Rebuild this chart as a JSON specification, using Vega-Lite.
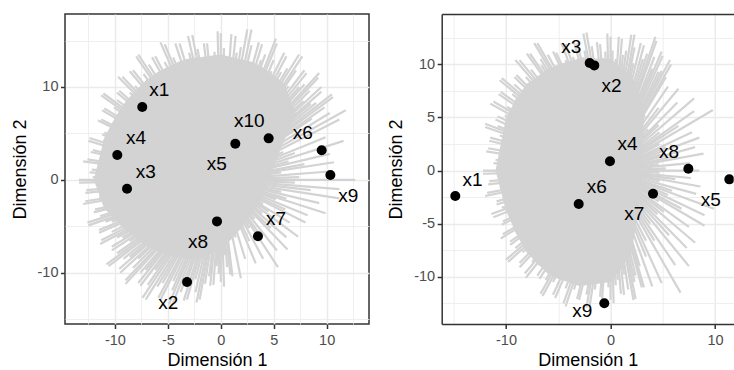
{
  "$schema": "https://vega.github.io/schema/vega-lite/v6.json",
  "autosize": {"type": "pad"},
  "padding": {"left": 10, "top": 13, "right": 0, "bottom": 0},
  "spacing": 17.7,
  "datasets": {
    "coreL": [
      {"x": -12, "lo": 0, "hi": 0}, {"x": -11, "lo": -3.11, "hi": 4.55}, {"x": -10, "lo": -4.24, "hi": 6.7},
      {"x": -9, "lo": -5.34, "hi": 8.45}, {"x": -8, "lo": -6.27, "hi": 9.67}, {"x": -7, "lo": -7.15, "hi": 10.76},
      {"x": -6, "lo": -7.62, "hi": 11.58}, {"x": -5, "lo": -8.08, "hi": 12.15}, {"x": -4, "lo": -8.35, "hi": 12.72},
      {"x": -3, "lo": -8.56, "hi": 13.07}, {"x": -2, "lo": -8.54, "hi": 13.21}, {"x": -1, "lo": -8.02, "hi": 13.36},
      {"x": 0, "lo": -7.5, "hi": 13.5}, {"x": 1, "lo": -6.4, "hi": 13.24}, {"x": 2, "lo": -5.09, "hi": 12.97},
      {"x": 3, "lo": -3.51, "hi": 12.7}, {"x": 4, "lo": -1.88, "hi": 12.09}, {"x": 5, "lo": 1.48, "hi": 11.25},
      {"x": 6, "lo": 4.28, "hi": 10.4}, {"x": 7, "lo": 6.84, "hi": 7.4}, {"x": 7.1, "lo": 7.1, "hi": 7.1}
    ],
    "raysL": [
      {"x": 12.7, "y": 0}, {"x": 7.4, "y": 0.3}, {"x": 10.2, "y": 0.9}, {"x": 5.7, "y": 0.8}, {"x": 10.7, "y": 1.9}, {"x": 7.9, "y": 1.7},
      {"x": 10.3, "y": 2.8}, {"x": 6.4, "y": 2.0}, {"x": 11.6, "y": 4.2}, {"x": 7.0, "y": 2.9}, {"x": 9.9, "y": 4.6}, {"x": 5.9, "y": 3.0},
      {"x": 11.2, "y": 6.5}, {"x": 11.8, "y": 7.5}, {"x": 10.3, "y": 7.2}, {"x": 8.6, "y": 6.6}, {"x": 10.6, "y": 8.9}, {"x": 9.0, "y": 8.3},
      {"x": 9.5, "y": 9.5}, {"x": 7.8, "y": 8.5}, {"x": 9.2, "y": 11.0}, {"x": 7.9, "y": 10.3}, {"x": 8.1, "y": 11.5}, {"x": 6.4, "y": 10.1},
      {"x": 7.7, "y": 13.3}, {"x": 6.3, "y": 12.0}, {"x": 6.2, "y": 13.3}, {"x": 4.8, "y": 11.7}, {"x": 5.3, "y": 14.7}, {"x": 4.2, "y": 13.5},
      {"x": 3.9, "y": 14.6}, {"x": 2.8, "y": 12.5}, {"x": 2.9, "y": 16.2}, {"x": 1.9, "y": 14.3}, {"x": 1.4, "y": 15.5}, {"x": 0.6, "y": 13.1},
      {"x": 0, "y": 15.8}, {"x": -0.6, "y": 13.8}, {"x": -1.3, "y": 14.7}, {"x": -1.6, "y": 12.2}, {"x": -2.7, "y": 15.6}, {"x": -3.0, "y": 13.7},
      {"x": -3.9, "y": 14.7}, {"x": -3.9, "y": 12.2}, {"x": -5.3, "y": 14.6}, {"x": -5.3, "y": 12.7}, {"x": -6.2, "y": 13.3}, {"x": -5.7, "y": 10.9},
      {"x": -7.8, "y": 13.5}, {"x": -7.3, "y": 11.4}, {"x": -8.3, "y": 11.8}, {"x": -7.3, "y": 9.5}, {"x": -9.3, "y": 11.1}, {"x": -8.6, "y": 9.4},
      {"x": -9.6, "y": 9.6}, {"x": -8.4, "y": 7.7}, {"x": -11.1, "y": 9.3}, {"x": -10.1, "y": 7.8}, {"x": -11.0, "y": 7.7}, {"x": -9.3, "y": 5.9},
      {"x": -11.3, "y": 6.5}, {"x": -10.1, "y": 5.3}, {"x": -11.0, "y": 5.1}, {"x": -9.5, "y": 3.9}, {"x": -12.4, "y": 4.5}, {"x": -11.1, "y": 3.5},
      {"x": -12.1, "y": 3.2}, {"x": -10.3, "y": 2.3}, {"x": -12.6, "y": 2.2}, {"x": -11.3, "y": 1.5}, {"x": -12.2, "y": 1.1}, {"x": -10.4, "y": 0.5},
      {"x": -13.4, "y": 0}, {"x": -11.8, "y": -0.5}, {"x": -12.7, "y": -1.1}, {"x": -10.6, "y": -1.4}, {"x": -12.8, "y": -2.3}, {"x": -11.2, "y": -2.5},
      {"x": -11.9, "y": -3.2}, {"x": -10.0, "y": -3.1}, {"x": -12.6, "y": -4.6}, {"x": -10.9, "y": -4.5}, {"x": -11.5, "y": -5.4}, {"x": -9.5, "y": -4.9},
      {"x": -11.3, "y": -6.5}, {"x": -9.8, "y": -6.2}, {"x": -10.3, "y": -7.2}, {"x": -8.6, "y": -6.6}, {"x": -10.8, "y": -9.1}, {"x": -9.2, "y": -8.5},
      {"x": -9.6, "y": -9.6}, {"x": -7.8, "y": -8.5}, {"x": -9.0, "y": -10.8}, {"x": -7.6, "y": -10.0}, {"x": -7.8, "y": -11.1}, {"x": -6.2, "y": -9.7},
      {"x": -7.4, "y": -12.7}, {"x": -6.0, "y": -11.5}, {"x": -5.9, "y": -12.7}, {"x": -4.5, "y": -10.9}, {"x": -4.9, "y": -13.4}, {"x": -3.8, "y": -12.1},
      {"x": -3.5, "y": -13.0}, {"x": -2.4, "y": -10.7}, {"x": -2.3, "y": -13.2}, {"x": -1.5, "y": -11.2}, {"x": -1.0, "y": -11.4}, {"x": -0.4, "y": -9.3},
      {"x": 0, "y": -11.0}, {"x": 0.4, "y": -8.1}, {"x": 0.9, "y": -10.2}, {"x": 0.8, "y": -6.0}, {"x": 1.9, "y": -10.6}, {"x": 1.4, "y": -6.2},
      {"x": 2.3, "y": -8.5}, {"x": 1.5, "y": -4.9}, {"x": 3.3, "y": -9.0}, {"x": 2.7, "y": -6.6}, {"x": 4.0, "y": -8.5}, {"x": 2.7, "y": -5.2},
      {"x": 5.4, "y": -9.4}, {"x": 3.5, "y": -5.6}, {"x": 5.3, "y": -7.6}, {"x": 3.2, "y": -4.2}, {"x": 6.3, "y": -7.5}, {"x": 4.7, "y": -5.2},
      {"x": 6.2, "y": -6.2}, {"x": 3.9, "y": -3.6}, {"x": 7.3, "y": -6.1}, {"x": 4.5, "y": -3.4}, {"x": 6.5, "y": -4.6}, {"x": 4.0, "y": -2.6},
      {"x": 8.0, "y": -4.6}, {"x": 6.1, "y": -3.2}, {"x": 8.2, "y": -3.8}, {"x": 5.2, "y": -2.1}, {"x": 9.9, "y": -3.6}, {"x": 6.2, "y": -2.0},
      {"x": 9.3, "y": -2.5}, {"x": 5.7, "y": -1.3}, {"x": 11.2, "y": -2.0}, {"x": 8.5, "y": -1.1}, {"x": 11.2, "y": -1.0}, {"x": 7.0, "y": -0.3},
      {"x": 9.8, "y": 7.8}, {"x": 10.5, "y": 9.2}, {"x": 8.5, "y": 8.2}, {"x": 9.5, "y": 10.0}, {"x": 8.4, "y": 9.6}, {"x": 9.3, "y": 11.5},
      {"x": 7.4, "y": 10.0}, {"x": 7.9, "y": 11.8}, {"x": 7.1, "y": 11.8}, {"x": 7.4, "y": 13.5}, {"x": 5.7, "y": 11.6}, {"x": 6.0, "y": 13.7},
      {"x": 5.0, "y": 12.9}, {"x": 5.2, "y": 15.2}, {"x": 3.8, "y": 12.9}, {"x": 3.6, "y": 14.8}, {"x": 2.9, "y": 14.5}, {"x": 2.5, "y": 16.2},
      {"x": 1.5, "y": 13.7}, {"x": 1.0, "y": 15.7}, {"x": 0.3, "y": 14.2}, {"x": -0.3, "y": 16.0}, {"x": -0.9, "y": 13.1}, {"x": -1.6, "y": 14.7},
      {"x": -2.2, "y": 14.1}, {"x": -3.1, "y": 15.5}, {"x": -3.2, "y": 13.0}, {"x": -4.3, "y": 14.7}, {"x": -4.5, "y": 13.2}, {"x": -5.7, "y": 14.8},
      {"x": -5.3, "y": 12.0}, {"x": -6.5, "y": 13.2}, {"x": -6.8, "y": 12.4}, {"x": -8.0, "y": 13.3}, {"x": -7.1, "y": 10.7}, {"x": -8.6, "y": 11.7},
      {"x": -8.1, "y": 10.1}, {"x": -9.7, "y": 11.1}, {"x": -8.4, "y": 8.7}, {"x": -9.8, "y": 9.4}, {"x": -9.8, "y": 8.6}, {"x": -11.3, "y": 9.1},
      {"x": -9.7, "y": 7.1}, {"x": -11.2, "y": 7.5}, {"x": -10.2, "y": 6.2}, {"x": -11.6, "y": 6.4}, {"x": -9.7, "y": 4.8}, {"x": -11.2, "y": 4.9},
      {"x": -11.1, "y": 4.3}, {"x": -12.5, "y": 4.2}, {"x": -10.6, "y": 3.1}, {"x": -12.3, "y": 3.0}, {"x": -11.3, "y": 2.2}, {"x": -13.0, "y": 2.0},
      {"x": -10.8, "y": 1.2}, {"x": -12.4, "y": 0.8}, {"x": -12.1, "y": 0.3}, {"x": -13.4, "y": -0.3}, {"x": -11.2, "y": -0.7}, {"x": -12.8, "y": -1.4},
      {"x": -11.5, "y": -1.8}, {"x": -13.0, "y": -2.6}, {"x": -10.7, "y": -2.6}, {"x": -12.0, "y": -3.5}, {"x": -11.4, "y": -3.9}, {"x": -12.5, "y": -4.9},
      {"x": -10.3, "y": -4.5}, {"x": -11.5, "y": -5.7}, {"x": -10.3, "y": -5.6}, {"x": -11.4, "y": -6.9}, {"x": -9.3, "y": -6.2}, {"x": -10.3, "y": -7.6},
      {"x": -9.8, "y": -7.9}, {"x": -10.6, "y": -9.3}, {"x": -8.6, "y": -8.3}, {"x": -9.5, "y": -10.0}, {"x": -8.3, "y": -9.5}, {"x": -9.0, "y": -11.2},
      {"x": -7.1, "y": -9.7}, {"x": -7.6, "y": -11.4}, {"x": -6.9, "y": -11.3}, {"x": -7.1, "y": -12.9}, {"x": -5.5, "y": -11.1}, {"x": -5.7, "y": -12.9},
      {"x": -4.6, "y": -11.9}, {"x": -4.7, "y": -13.8}, {"x": -3.4, "y": -11.5}, {"x": -3.2, "y": -12.9}, {"x": -2.4, "y": -12.1}, {"x": -2.0, "y": -12.9},
      {"x": -1.1, "y": -10.4}, {"x": -0.7, "y": -11.3}, {"x": -0.2, "y": -10.1}, {"x": 0.3, "y": -11.5}, {"x": 0.6, "y": -9.4}, {"x": 1.1, "y": -10.4}
    ],
    "ptsL": [
      {"name": "x1", "x": -7.42, "y": 7.85, "lx": -5.81, "ly": 9.64},
      {"name": "x2", "x": -3.19, "y": -11.0, "lx": -4.96, "ly": -13.23},
      {"name": "x3", "x": -8.86, "y": -0.95, "lx": -7.09, "ly": 0.88},
      {"name": "x4", "x": -9.78, "y": 2.68, "lx": -8.01, "ly": 4.54},
      {"name": "x5", "x": 1.37, "y": 3.89, "lx": -0.39, "ly": 1.67},
      {"name": "x6", "x": 9.53, "y": 3.18, "lx": 7.74, "ly": 5.01},
      {"name": "x7", "x": 3.51, "y": -6.08, "lx": 5.21, "ly": -4.18},
      {"name": "x8", "x": -0.36, "y": -4.47, "lx": -2.15, "ly": -6.66},
      {"name": "x9", "x": 10.35, "y": 0.52, "lx": 12.05, "ly": -1.74},
      {"name": "x10", "x": 4.52, "y": 4.47, "lx": 2.69, "ly": 6.34}
    ],
    "coreR": [
      {"x": -11, "lo": 0, "hi": 0}, {"x": -10, "lo": -3.79, "hi": 4.95}, {"x": -9, "lo": -6.0, "hi": 6.8},
      {"x": -8, "lo": -7.73, "hi": 8.17}, {"x": -7, "lo": -8.76, "hi": 8.86}, {"x": -6, "lo": -9.71, "hi": 9.56},
      {"x": -5, "lo": -10.2, "hi": 9.99}, {"x": -4, "lo": -10.53, "hi": 10.27}, {"x": -3, "lo": -10.87, "hi": 10.56},
      {"x": -2, "lo": -10.78, "hi": 10.57}, {"x": -1, "lo": -10.64, "hi": 10.53}, {"x": 0, "lo": -10.5, "hi": 10.5},
      {"x": 1, "lo": -9.17, "hi": 9.72}, {"x": 2, "lo": -7.83, "hi": 8.93}, {"x": 2.5, "lo": -4.74, "hi": 8.05},
      {"x": 2.6, "lo": -4.0, "hi": 7.72}, {"x": 2.8, "lo": 0, "hi": 7.07}, {"x": 3, "lo": 1.75, "hi": 6.42},
      {"x": 3.25, "lo": 5.6, "hi": 5.6}
    ],
    "raysR": [
      {"x": 8.5, "y": 0}, {"x": 5.3, "y": 0.2}, {"x": 7.6, "y": 0.7}, {"x": 4.6, "y": 0.6}, {"x": 8.9, "y": 1.6}, {"x": 6.4, "y": 1.4},
      {"x": 8.1, "y": 2.2}, {"x": 4.8, "y": 1.5}, {"x": 8.5, "y": 3.1}, {"x": 5.3, "y": 2.2}, {"x": 7.8, "y": 3.6}, {"x": 4.7, "y": 2.5},
      {"x": 9.8, "y": 5.7}, {"x": 6.5, "y": 4.2}, {"x": 8.0, "y": 5.6}, {"x": 4.7, "y": 3.6}, {"x": 8.0, "y": 6.8}, {"x": 4.6, "y": 4.3},
      {"x": 6.4, "y": 6.4}, {"x": 3.6, "y": 3.9}, {"x": 6.5, "y": 7.7}, {"x": 4.6, "y": 5.9}, {"x": 5.5, "y": 7.9}, {"x": 3.3, "y": 5.2},
      {"x": 5.8, "y": 10.0}, {"x": 4.9, "y": 9.4}, {"x": 5.0, "y": 10.8}, {"x": 4.0, "y": 9.6}, {"x": 4.4, "y": 12.2}, {"x": 3.5, "y": 11.0},
      {"x": 3.2, "y": 11.8}, {"x": 2.2, "y": 10.1}, {"x": 2.3, "y": 12.8}, {"x": 1.5, "y": 11.3}, {"x": 1.1, "y": 12.4}, {"x": 0.5, "y": 10.5},
      {"x": 0, "y": 12.6}, {"x": -0.5, "y": 11.2}, {"x": -1.0, "y": 11.9}, {"x": -1.3, "y": 10.1}, {"x": -2.3, "y": 13.0}, {"x": -2.5, "y": 11.3},
      {"x": -3.2, "y": 12.0}, {"x": -3.2, "y": 10.0}, {"x": -4.3, "y": 11.9}, {"x": -4.3, "y": 10.4}, {"x": -5.2, "y": 11.1}, {"x": -4.9, "y": 9.4},
      {"x": -7.0, "y": 12.0}, {"x": -6.7, "y": 10.5}, {"x": -7.7, "y": 11.0}, {"x": -6.9, "y": 8.9}, {"x": -8.7, "y": 10.4}, {"x": -8.1, "y": 8.8},
      {"x": -9.0, "y": 9.0}, {"x": -7.9, "y": 7.2}, {"x": -10.4, "y": 8.7}, {"x": -9.4, "y": 7.2}, {"x": -10.5, "y": 7.4}, {"x": -9.0, "y": 5.8},
      {"x": -11.2, "y": 6.5}, {"x": -10.1, "y": 5.2}, {"x": -10.8, "y": 5.1}, {"x": -9.3, "y": 3.9}, {"x": -12.0, "y": 4.4}, {"x": -10.6, "y": 3.3},
      {"x": -11.5, "y": 3.1}, {"x": -9.7, "y": 2.1}, {"x": -11.7, "y": 2.1}, {"x": -10.3, "y": 1.4}, {"x": -11.0, "y": 1.0}, {"x": -9.4, "y": 0.4},
      {"x": -12.2, "y": 0}, {"x": -10.7, "y": -0.5}, {"x": -11.6, "y": -1.0}, {"x": -9.8, "y": -1.3}, {"x": -11.8, "y": -2.1}, {"x": -10.3, "y": -2.3},
      {"x": -10.9, "y": -2.9}, {"x": -9.1, "y": -2.9}, {"x": -11.4, "y": -4.1}, {"x": -9.8, "y": -4.0}, {"x": -10.3, "y": -4.8}, {"x": -8.7, "y": -4.5},
      {"x": -10.3, "y": -6.0}, {"x": -9.1, "y": -5.8}, {"x": -9.6, "y": -6.7}, {"x": -7.9, "y": -6.1}, {"x": -10.0, "y": -8.4}, {"x": -8.4, "y": -7.7},
      {"x": -8.7, "y": -8.7}, {"x": -7.1, "y": -7.7}, {"x": -8.2, "y": -9.7}, {"x": -6.9, "y": -8.9}, {"x": -7.0, "y": -9.9}, {"x": -5.6, "y": -8.7},
      {"x": -6.7, "y": -11.6}, {"x": -5.5, "y": -10.5}, {"x": -5.5, "y": -11.7}, {"x": -4.2, "y": -10.1}, {"x": -4.5, "y": -12.5}, {"x": -3.5, "y": -11.2},
      {"x": -3.2, "y": -12.1}, {"x": -2.3, "y": -10.2}, {"x": -2.3, "y": -12.9}, {"x": -1.5, "y": -11.2}, {"x": -1.0, "y": -11.9}, {"x": -0.4, "y": -10.1},
      {"x": 0, "y": -12.2}, {"x": 0.5, "y": -10.8}, {"x": 1.0, "y": -11.6}, {"x": 1.3, "y": -9.8}, {"x": 2.2, "y": -12.2}, {"x": 2.3, "y": -10.5},
      {"x": 3.0, "y": -11.0}, {"x": 2.8, "y": -9.0}, {"x": 4.0, "y": -10.9}, {"x": 3.4, "y": -8.1}, {"x": 4.9, "y": -10.6}, {"x": 3.4, "y": -6.6},
      {"x": 6.7, "y": -11.5}, {"x": 4.2, "y": -6.6}, {"x": 6.2, "y": -8.9}, {"x": 3.8, "y": -5.0}, {"x": 7.5, "y": -9.0}, {"x": 5.6, "y": -6.1},
      {"x": 7.3, "y": -7.3}, {"x": 4.5, "y": -4.1}, {"x": 8.1, "y": -6.8}, {"x": 5.1, "y": -3.9}, {"x": 7.5, "y": -5.3}, {"x": 4.6, "y": -2.9},
      {"x": 9.0, "y": -5.2}, {"x": 6.8, "y": -3.6}, {"x": 9.0, "y": -4.2}, {"x": 5.5, "y": -2.3}, {"x": 9.9, "y": -3.6}, {"x": 5.9, "y": -1.9},
      {"x": 8.2, "y": -2.2}, {"x": 4.7, "y": -1.0}, {"x": 8.6, "y": -1.5}, {"x": 6.2, "y": -0.8}, {"x": 7.7, "y": -0.7}, {"x": 4.7, "y": -0.2},
      {"x": 5.3, "y": 8.8}, {"x": 5.7, "y": 10.4}, {"x": 4.6, "y": 9.3}, {"x": 4.9, "y": 11.2}, {"x": 4.2, "y": 10.7}, {"x": 4.3, "y": 12.6},
      {"x": 3.1, "y": 10.5}, {"x": 2.9, "y": 12.0}, {"x": 2.3, "y": 11.6}, {"x": 2.0, "y": 12.8}, {"x": 1.2, "y": 10.9}, {"x": 0.8, "y": 12.6},
      {"x": 0.2, "y": 11.3}, {"x": -0.3, "y": 12.9}, {"x": -0.7, "y": 10.6}, {"x": -1.3, "y": 12.1}, {"x": -1.8, "y": 11.7}, {"x": -2.6, "y": 12.9},
      {"x": -2.6, "y": 10.7}, {"x": -3.5, "y": 12.1}, {"x": -3.6, "y": 10.7}, {"x": -4.7, "y": 12.0}, {"x": -4.4, "y": 9.9}, {"x": -5.5, "y": 11.2},
      {"x": -6.0, "y": 10.9}, {"x": -7.3, "y": 12.0}, {"x": -6.6, "y": 9.9}, {"x": -8.0, "y": 11.0}, {"x": -7.6, "y": 9.5}, {"x": -9.1, "y": 10.4},
      {"x": -7.9, "y": 8.2}, {"x": -9.2, "y": 8.8}, {"x": -9.2, "y": 8.1}, {"x": -10.6, "y": 8.5}, {"x": -9.1, "y": 6.7}, {"x": -10.7, "y": 7.2},
      {"x": -9.9, "y": 6.0}, {"x": -11.5, "y": 6.3}, {"x": -9.6, "y": 4.8}, {"x": -11.0, "y": 4.8}, {"x": -10.8, "y": 4.2}, {"x": -12.0, "y": 4.1},
      {"x": -10.1, "y": 2.9}, {"x": -11.6, "y": 2.8}, {"x": -10.5, "y": 2.1}, {"x": -11.9, "y": 1.8}, {"x": -9.8, "y": 1.1}, {"x": -11.2, "y": 0.7},
      {"x": -10.9, "y": 0.2}, {"x": -12.2, "y": -0.3}, {"x": -10.3, "y": -0.7}, {"x": -11.7, "y": -1.3}, {"x": -10.6, "y": -1.6}, {"x": -12.0, "y": -2.4},
      {"x": -9.8, "y": -2.4}, {"x": -10.9, "y": -3.2}, {"x": -10.4, "y": -3.5}, {"x": -11.2, "y": -4.4}, {"x": -9.2, "y": -4.1}, {"x": -10.4, "y": -5.1},
      {"x": -9.3, "y": -5.1}, {"x": -10.5, "y": -6.4}, {"x": -8.6, "y": -5.7}, {"x": -9.6, "y": -7.0}, {"x": -9.1, "y": -7.3}, {"x": -9.8, "y": -8.6},
      {"x": -7.9, "y": -7.6}, {"x": -8.7, "y": -9.1}, {"x": -7.5, "y": -8.6}, {"x": -8.1, "y": -10.1}, {"x": -6.4, "y": -8.7}, {"x": -6.8, "y": -10.2},
      {"x": -6.2, "y": -10.3}, {"x": -6.5, "y": -11.8}, {"x": -5.0, "y": -10.2}, {"x": -5.3, "y": -12.0}, {"x": -4.3, "y": -11.1}, {"x": -4.3, "y": -12.8},
      {"x": -3.1, "y": -10.7}, {"x": -3.0, "y": -12.2}, {"x": -2.3, "y": -11.7}, {"x": -2.0, "y": -12.8}, {"x": -1.2, "y": -10.6}, {"x": -0.8, "y": -12.1},
      {"x": -0.2, "y": -11.0}, {"x": 0.3, "y": -12.5}, {"x": 0.7, "y": -10.3}, {"x": 1.3, "y": -11.7}, {"x": 1.7, "y": -11.2}, {"x": 2.4, "y": -12.1},
      {"x": 2.4, "y": -9.9}, {"x": 3.2, "y": -11.0}
    ],
    "ptsR": [
      {"name": "x1", "x": -14.85, "y": -2.4, "lx": -13.19, "ly": -0.89},
      {"name": "x2", "x": -1.55, "y": 9.9, "lx": 0.11, "ly": 7.93},
      {"name": "x3", "x": -1.99, "y": 10.12, "lx": -3.75, "ly": 11.66},
      {"name": "x4", "x": -0.05, "y": 0.87, "lx": 1.64, "ly": 2.47},
      {"name": "x5", "x": 11.37, "y": -0.83, "lx": 9.59, "ly": -2.75},
      {"name": "x6", "x": -3.04, "y": -3.15, "lx": -1.32, "ly": -1.55},
      {"name": "x7", "x": 4.07, "y": -2.18, "lx": 2.28, "ly": -4.12},
      {"name": "x8", "x": 7.45, "y": 0.17, "lx": 5.6, "ly": 1.74},
      {"name": "x9", "x": -0.59, "y": -12.5, "lx": -2.7, "ly": -13.23}
    ]
  },
  "hconcat": [
    {
      "width": 304,
      "height": 310,
      "resolve": {"axis": {"x": "independent", "y": "independent"}},
      "layer": [
        {
          "data": {"name": "coreL"},
          "mark": {"type": "area", "color": "#D3D3D3", "clip": true, "opacity": 1},
          "encoding": {
            "x": {"field": "x", "type": "quantitative",
              "scale": {"domain": [-14.72, 14.0], "nice": false, "zero": false},
              "axis": {"title": "Dimensión 1", "domain": false, "values": [-10, -5, 0, 5, 10],
                "labelExpr": "'' + datum.value", "gridWidth": 1.5}},
            "y": {"field": "lo", "type": "quantitative",
              "scale": {"domain": [-15.52, 17.86], "nice": false, "zero": false},
              "axis": {"title": "Dimensión 2", "domain": false, "values": [-10, 0, 10],
                "labelExpr": "'' + datum.value", "gridWidth": 1.5}},
            "y2": {"field": "hi"}
          }
        },
        {
          "data": {"name": "raysL"},
          "mark": {"type": "rule", "color": "#D3D3D3", "strokeWidth": 2.2, "clip": true},
          "encoding": {
            "x": {"field": "x", "type": "quantitative",
              "axis": {"orient": "top", "title": null, "labels": false, "ticks": false, "domain": false, "grid": true,
                "gridWidth": 0.8, "minExtent": 0, "values": [-12.5, -7.5, -2.5, 2.5, 7.5, 12.5]}},
            "y": {"field": "y", "type": "quantitative",
              "axis": {"orient": "right", "title": null, "labels": false, "ticks": false, "domain": false, "grid": true,
                "gridWidth": 0.8, "minExtent": 0, "values": [-15, -5, 5, 15]}},
            "x2": {"datum": 0},
            "y2": {"datum": 0}
          }
        },
        {
          "data": {"name": "ptsL"},
          "mark": {"type": "point", "filled": true, "color": "#000000", "opacity": 1, "size": 100},
          "encoding": {
            "x": {"field": "x", "type": "quantitative", "axis": null},
            "y": {"field": "y", "type": "quantitative", "axis": null}
          }
        },
        {
          "data": {"name": "ptsL"},
          "mark": {"type": "text", "fontSize": 19, "color": "#000000", "align": "center", "baseline": "middle"},
          "encoding": {
            "x": {"field": "lx", "type": "quantitative", "axis": null},
            "y": {"field": "ly", "type": "quantitative", "axis": null},
            "text": {"field": "name"}
          }
        }
      ]
    },
    {
      "width": 292,
      "height": 310,
      "view": {"stroke": null},
      "resolve": {"axis": {"x": "independent", "y": "independent"}},
      "layer": [
        {
          "data": {"name": "coreR"},
          "mark": {"type": "area", "color": "#D3D3D3", "clip": true, "opacity": 1},
          "encoding": {
            "x": {"field": "x", "type": "quantitative",
              "scale": {"domain": [-16.15, 11.79], "nice": false, "zero": false},
              "axis": {"title": "Dimensión 1", "domain": true, "values": [-10, 0, 10],
                "labelExpr": "'' + datum.value", "gridWidth": 1.5}},
            "y": {"field": "lo", "type": "quantitative",
              "scale": {"domain": [-14.45, 14.74], "nice": false, "zero": false},
              "axis": {"title": "Dimensión 2", "domain": true, "values": [-10, -5, 0, 5, 10],
                "labelExpr": "'' + datum.value", "gridWidth": 1.5}},
            "y2": {"field": "hi"}
          }
        },
        {
          "data": {"name": "raysR"},
          "mark": {"type": "rule", "color": "#D3D3D3", "strokeWidth": 2.2, "clip": true},
          "encoding": {
            "x": {"field": "x", "type": "quantitative",
              "axis": {"orient": "top", "title": null, "labels": false, "ticks": false, "domain": true, "grid": true,
                "gridWidth": 0.8, "minExtent": 0, "values": [-15, -5, 5]}},
            "y": {"field": "y", "type": "quantitative",
              "axis": {"orient": "right", "title": null, "labels": false, "ticks": false, "domain": false, "grid": true,
                "gridWidth": 0.8, "minExtent": 0, "values": [-12.5, -7.5, -2.5, 2.5, 7.5, 12.5]}},
            "x2": {"datum": 0},
            "y2": {"datum": 0}
          }
        },
        {
          "data": {"name": "ptsR"},
          "mark": {"type": "point", "filled": true, "color": "#000000", "opacity": 1, "size": 100, "clip": true},
          "encoding": {
            "x": {"field": "x", "type": "quantitative", "axis": null},
            "y": {"field": "y", "type": "quantitative", "axis": null}
          }
        },
        {
          "data": {"name": "ptsR"},
          "mark": {"type": "text", "fontSize": 19, "color": "#000000", "align": "center", "baseline": "middle"},
          "encoding": {
            "x": {"field": "lx", "type": "quantitative", "axis": null},
            "y": {"field": "ly", "type": "quantitative", "axis": null},
            "text": {"field": "name"}
          }
        }
      ]
    }
  ],
  "config": {
    "font": "Liberation Sans",
    "background": "#FFFFFF",
    "view": {"stroke": "#333333", "strokeWidth": 1.5},
    "axis": {
      "labelFont": "Liberation Sans",
      "titleFont": "Liberation Sans",
      "labelFontSize": 14.5,
      "labelColor": "#4D4D4D",
      "titleFontSize": 18,
      "titleFontWeight": "normal",
      "titleColor": "#000000",
      "tickColor": "#333333",
      "tickSize": 4.5,
      "tickWidth": 1.5,
      "gridColor": "#EBEBEB",
      "domainColor": "#333333",
      "domainWidth": 1.5,
      "labelFlush": false,
      "labelOverlap": false,
      "labelPadding": 2.5
    },
    "axisX": {"titlePadding": 4, "labelPadding": 5},
    "axisY": {"titlePadding": 8}
  }
}
